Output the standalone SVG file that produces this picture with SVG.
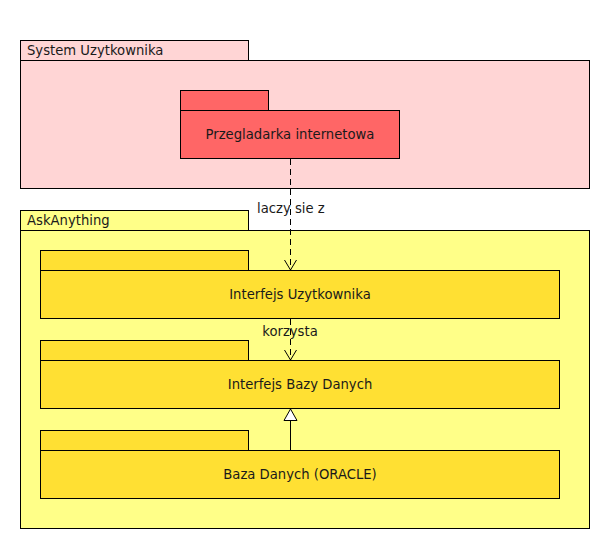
<svg xmlns="http://www.w3.org/2000/svg" width="610" height="550" viewBox="0 0 610 550">
<defs>
<style>
.pk{stroke:#000;stroke-width:1}
.pink{fill:#ffd5d5}
.red{fill:#ff6666}
.yel{fill:#ffff88}
.gold{fill:#ffe033}
text{font-family:"DejaVu Sans","Liberation Sans",sans-serif;font-size:13.2px;fill:#1a1a1a}
.c{text-anchor:middle}
.dash{stroke:#000;stroke-width:1;stroke-dasharray:6,4;fill:none}
.solid{stroke:#000;stroke-width:1;fill:none}
</style>
<marker id="open" viewBox="0 0 12 14" refX="11" refY="7" markerWidth="12" markerHeight="14" markerUnits="userSpaceOnUse" orient="auto">
<path d="M1,1 L11,7 L1,13" fill="none" stroke="#000" stroke-width="1"/>
</marker>
</defs>
<rect width="610" height="550" fill="#fff"/>
<g id="system-uzytkownika">
<rect class="pk pink" x="20.5" y="40.5" width="228" height="20"/>
<rect class="pk pink" x="20.5" y="60.5" width="569" height="128"/>
<text x="27" y="55">System Uzytkownika</text>
</g>
<g id="przegladarka">
<rect class="pk red" x="180.5" y="90.5" width="88" height="20"/>
<rect class="pk red" x="180.5" y="110.5" width="219" height="48"/>
<text class="c" x="290" y="139">Przegladarka internetowa</text>
</g>
<g id="askanything">
<rect class="pk yel" x="20.5" y="210.5" width="228" height="20"/>
<rect class="pk yel" x="20.5" y="230.5" width="569" height="298"/>
<text x="27" y="225">AskAnything</text>
</g>
<g id="interfejs-uzytkownika">
<rect class="pk gold" x="40.5" y="250.5" width="208" height="20"/>
<rect class="pk gold" x="40.5" y="270.5" width="519" height="48"/>
<text class="c" x="300" y="299">Interfejs Uzytkownika</text>
</g>
<g id="interfejs-bazy-danych">
<rect class="pk gold" x="40.5" y="340.5" width="208" height="20"/>
<rect class="pk gold" x="40.5" y="360.5" width="519" height="48"/>
<text class="c" x="300" y="389">Interfejs Bazy Danych</text>
</g>
<g id="baza-danych">
<rect class="pk gold" x="40.5" y="430.5" width="208" height="20"/>
<rect class="pk gold" x="40.5" y="450.5" width="519" height="48"/>
<text class="c" x="300" y="479">Baza Danych (ORACLE)</text>
</g>
<g id="connectors">
<line class="dash" x1="290.5" y1="159" x2="290.5" y2="270" marker-end="url(#open)"/>
<text x="257" y="213">laczy sie z</text>
<line class="dash" x1="290.5" y1="319" x2="290.5" y2="360" marker-end="url(#open)"/>
<text class="c" x="290" y="336">korzysta</text>
<line class="solid" x1="290.5" y1="450" x2="290.5" y2="420"/>
<path d="M284,420.5 L290.5,409 L297,420.5 Z" fill="#fff" stroke="#000" stroke-width="1"/>
</g>
</svg>
